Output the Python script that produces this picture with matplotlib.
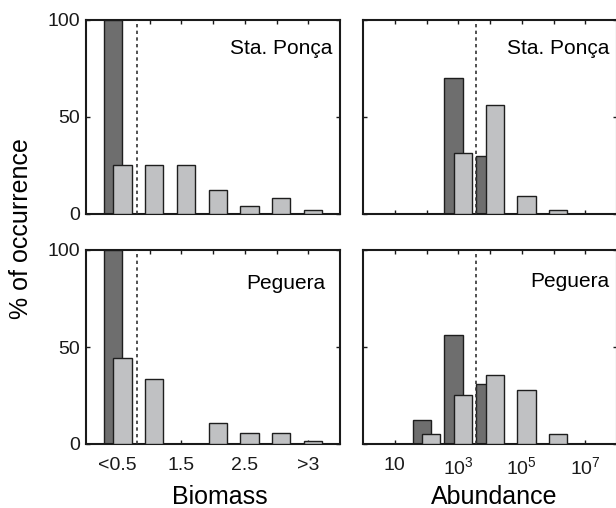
import matplotlib
matplotlib.use("Agg")
import matplotlib.pyplot as plt
import numpy as np

plt.rcParams['font.family'] = ['Liberation Sans', 'DejaVu Sans']
plt.rcParams['mathtext.fontset'] = 'custom'
plt.rcParams['mathtext.rm'] = 'Liberation Sans'
plt.rcParams['mathtext.default'] = 'regular'

# ---- data ----
biomass_cats = ["<0.5", "1", "1.5", "2", "2.5", "3", ">3"]
biomass_ticklabels = ["<0.5", "", "1.5", "", "2.5", "", ">3"]
biomass_dark_sp = [100, 0, 0, 0, 0, 0, 0]
biomass_light_sp = [25, 25, 25, 12.5, 4, 8, 2]
biomass_dark_pe = [100, 0, 0, 0, 0, 0, 0]
biomass_light_pe = [44.5, 33.3, 0, 11, 5.5, 5.5, 1.7]
biomass_threshold = 1.6  # position on category axis

abund_exp = [1, 2, 3, 4, 5, 6, 7]
abund_ticklabels = ["10", "", "$10^3$", "", "$10^5$", "", "$10^7$"]
abund_dark_sp = [0, 0, 70, 30, 0, 0, 0]
abund_light_sp = [0, 0, 31.5, 56, 9.5, 2, 0]
abund_dark_pe = [0, 12.5, 56, 31, 0, 0, 0]
abund_light_pe = [0, 5, 25.5, 35.5, 28, 5, 0]
abund_threshold = 3.55  # log10 abundance

sites = ["Sta. Ponça", "Peguera"]

DARK = "#6e6e6e"
LIGHT = "#c0c1c3"
EDGE = "#1e1e1e"
W = 0.57
OFF = 0.15

fig = plt.figure(figsize=(6.16, 5.08), dpi=100)

ax_tl = fig.add_axes([86 / 616, 1 - 214 / 508, 254 / 616, 194 / 508])
ax_bl = fig.add_axes([86 / 616, 1 - 444 / 508, 254 / 616, 194 / 508])
ax_tr = fig.add_axes([363 / 616, 1 - 214 / 508, 254 / 616, 194 / 508])
ax_br = fig.add_axes([363 / 616, 1 - 444 / 508, 254 / 616, 194 / 508])

def bars(ax, x, dark, light):
    x = np.asarray(x, dtype=float)
    dark = np.asarray(dark, dtype=float)
    light = np.asarray(light, dtype=float)
    md = dark > 0
    ml = light > 0
    ax.bar(x[md] - OFF, dark[md], width=W, color=DARK, edgecolor=EDGE,
           linewidth=1.0, zorder=2)
    ax.bar(x[ml] + OFF, light[ml], width=W, color=LIGHT, edgecolor=EDGE,
           linewidth=1.0, zorder=3)

def style(ax, show_ylabels):
    ax.set_ylim(0, 100)
    ax.set_xlim(0, 8)
    ax.set_yticks([0, 50, 100])
    for s in ax.spines.values():
        s.set_linewidth(1.5)
        s.set_color("#1a1a1a")
    ax.tick_params(direction="in", length=3, width=1, top=True, right=True,
                   labelsize=14, colors="#1a1a1a")
    ax.tick_params(axis="x", pad=9)
    ax.tick_params(axis="y", pad=4)
    if not show_ylabels:
        ax.set_yticklabels([])

xb = np.arange(1, len(biomass_cats) + 1)
for ax, d, l in [(ax_tl, biomass_dark_sp, biomass_light_sp),
                 (ax_bl, biomass_dark_pe, biomass_light_pe)]:
    bars(ax, xb, d, l)
    ax.axvline(biomass_threshold, color="#333333", lw=1.2,
               linestyle=(0, (2, 2)), zorder=4)
    style(ax, True)
    ax.set_xticks(xb)
    ax.set_xticklabels(biomass_ticklabels)

for ax, d, l in [(ax_tr, abund_dark_sp, abund_light_sp),
                 (ax_br, abund_dark_pe, abund_light_pe)]:
    bars(ax, abund_exp, d, l)
    ax.axvline(abund_threshold, color="#333333", lw=1.2,
               linestyle=(0, (2, 2)), zorder=4)
    style(ax, False)
    ax.set_xticks(abund_exp)
    ax.set_xticklabels(abund_ticklabels)

ax_tl.set_xticklabels([])
ax_tr.set_xticklabels([])

ax_tl.text(0.969, 0.823, sites[0], transform=ax_tl.transAxes, ha="right",
           va="baseline", fontsize=15)
ax_tr.text(0.969, 0.825, sites[0], transform=ax_tr.transAxes, ha="right",
           va="baseline", fontsize=15)
ax_bl.text(0.941, 0.797, sites[1], transform=ax_bl.transAxes, ha="right",
           va="baseline", fontsize=15)
ax_br.text(0.969, 0.811, sites[1], transform=ax_br.transAxes, ha="right",
           va="baseline", fontsize=15)

fig.text(220 / 616, 1 - 497 / 508, "Biomass", ha="center",
         va="center", fontsize=18)
fig.text(494 / 616, 1 - 497 / 508, "Abundance", ha="center",
         va="center", fontsize=18)
fig.text(21 / 616, 1 - 229 / 508, "% of occurrence", rotation=90,
         ha="center", va="center", fontsize=18)

fig.savefig("out.png", dpi=100)
